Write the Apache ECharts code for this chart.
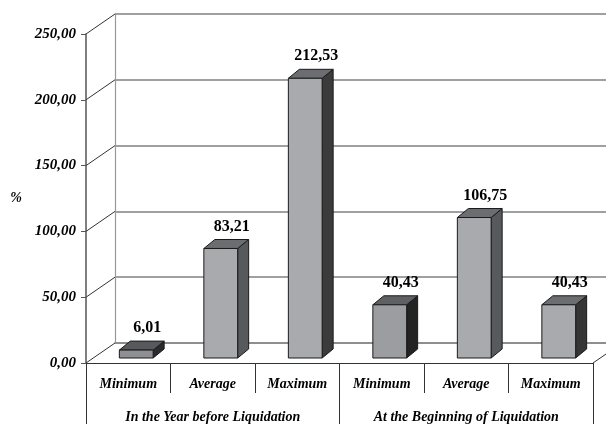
<!DOCTYPE html>
<html>
<head>
<meta charset="utf-8">
<script src="https://cdn.jsdelivr.net/npm/echarts@6/dist/echarts.min.js"></script>
<style>
  html, body { margin: 0; padding: 0; background: #fff; }
  #chart { width: 606px; height: 424px; }
</style>
</head>
<body>
<div id="chart"></div>
<script>
const categories = ['Minimum', 'Average', 'Maximum', 'Minimum', 'Average', 'Maximum'];
const groups = ['In the Year before Liquidation', 'At the Beginning of Liquidation'];
const values = [6.01, 83.21, 212.53, 40.43, 106.75, 40.43];
const yTicks = [0, 50, 100, 150, 200, 250];

// per-bar shading
const frontShades = ['#8f9094', '#a9aaae', '#a9aaae', '#9c9da1', '#a9aaae', '#a9aaae'];
const topShades = ['#58595c', '#6c6d70', '#6c6d70', '#5f6063', '#6c6d70', '#6c6d70'];
const sideShades = ['#2a2a2a', '#58595b', '#3b3b3b', '#232323', '#58595b', '#353535'];

const SERIF = '"Liberation Serif", "Times New Roman", serif';
const WALL_DX = 29, WALL_DY = -20;   // depth of the floor / back wall
const BAR_DX = 11, BAR_DY = -9;      // depth of each bar
const BAR_SHIFT_X = 8, BAR_SHIFT_Y = -5;

const fmt = (v) => v.toFixed(2).replace('.', ',');

const chart = echarts.init(document.getElementById('chart'), null, { renderer: 'canvas' });

chart.setOption({
  animation: false,
  grid: [
    { left: 86, right: 13, top: 34, bottom: 61 },
    { left: 86 + WALL_DX, top: 34 + WALL_DY, width: 507, height: 329 }
  ],
  xAxis: [
    {
      type: 'category', gridIndex: 0, data: categories, position: 'bottom',
      axisLine: { lineStyle: { color: '#333', width: 1.2 } },
      axisTick: { show: true, interval: 0, length: 30, lineStyle: { color: '#333' } },
      axisLabel: {
        interval: 0, margin: 14, color: '#000',
        fontFamily: SERIF, fontSize: 14, fontStyle: 'italic', fontWeight: 'bold'
      }
    },
    {
      type: 'category', gridIndex: 0, data: groups, position: 'bottom',
      axisLine: { show: false },
      axisTick: { show: true, interval: 0, length: 61, lineStyle: { color: '#333' } },
      axisLabel: {
        interval: 0, margin: 47, color: '#000',
        fontFamily: SERIF, fontSize: 14, fontStyle: 'italic', fontWeight: 'bold'
      }
    },
    {
      type: 'category', gridIndex: 1, data: categories,
      axisLine: { show: true, lineStyle: { color: '#888', width: 1.5 } },
      axisTick: { show: false }, axisLabel: { show: false }
    }
  ],
  yAxis: [
    {
      type: 'value', gridIndex: 0, min: 0, max: 250, interval: 50,
      name: '%', nameLocation: 'middle', nameGap: 64, nameRotate: 0,
      nameTextStyle: { fontFamily: SERIF, fontSize: 14, fontStyle: 'italic', fontWeight: 'bold', color: '#000' },
      axisLine: { show: true, lineStyle: { color: '#555', width: 1.5 } },
      axisTick: { show: true, length: 5, lineStyle: { color: '#555' } },
      splitLine: { show: false },
      axisLabel: {
        margin: 10, color: '#000', formatter: fmt,
        fontFamily: SERIF, fontSize: 15, fontStyle: 'italic', fontWeight: 'bold'
      }
    },
    {
      type: 'value', gridIndex: 1, min: 0, max: 250, interval: 50,
      axisLine: { show: true, lineStyle: { color: '#999', width: 1.2 } },
      axisTick: { show: false }, axisLabel: { show: false },
      splitLine: { show: true, lineStyle: { color: '#808080', width: 1.6 } }
    }
  ],
  series: [
    {
      // diagonals joining the front axis to the back wall
      type: 'custom', xAxisIndex: 0, yAxisIndex: 0, z: 2, silent: true,
      data: yTicks.map((v) => [0, v]),
      renderItem: (params, api) => {
        const cs = params.coordSys;
        const y = api.coord([0, api.value(1)])[1];
        const children = [{
          type: 'line',
          shape: { x1: cs.x, y1: y, x2: cs.x + WALL_DX, y2: y + WALL_DY },
          style: { stroke: '#333', lineWidth: 1 }
        }];
        if (api.value(1) === 0) {
          const xr = cs.x + cs.width;
          children.push({
            type: 'line',
            shape: { x1: xr, y1: y, x2: xr + WALL_DX, y2: y + WALL_DY },
            style: { stroke: '#333', lineWidth: 1 }
          });
        }
        return { type: 'group', children };
      }
    },
    {
      type: 'custom', xAxisIndex: 0, yAxisIndex: 0, z: 5, silent: true,
      data: values.map((v, i) => [i, v]),
      renderItem: (params, api) => {
        const i = api.value(0);
        const v = api.value(1);
        const base = api.coord([i, 0]);
        const tip = api.coord([i, v]);
        const bw = api.size([1, 0])[0] * 0.4;
        const cx = base[0] + BAR_SHIFT_X;
        const L = cx - bw / 2, R = cx + bw / 2;
        const bot = base[1] + BAR_SHIFT_Y, top = tip[1] + BAR_SHIFT_Y;
        const edge = { stroke: '#1a1a1a', lineWidth: 1, lineJoin: 'round' };
        return {
          type: 'group',
          children: [
            {
              type: 'polygon',
              shape: { points: [[R, top], [R + BAR_DX, top + BAR_DY], [R + BAR_DX, bot + BAR_DY], [R, bot]] },
              style: Object.assign({ fill: sideShades[i] }, edge)
            },
            {
              type: 'polygon',
              shape: { points: [[L, top], [R, top], [R + BAR_DX, top + BAR_DY], [L + BAR_DX, top + BAR_DY]] },
              style: Object.assign({ fill: topShades[i] }, edge)
            },
            {
              type: 'rect',
              shape: { x: L, y: top, width: bw, height: bot - top },
              style: Object.assign({ fill: frontShades[i] }, edge)
            },
            {
              type: 'text',
              x: cx + BAR_DX, y: top + BAR_DY - 13,
              style: {
                text: fmt(v), align: 'center', verticalAlign: 'middle',
                font: 'bold 16px ' + SERIF, fill: '#000'
              }
            }
          ]
        };
      }
    }
  ]
});
</script>
</body>
</html>
